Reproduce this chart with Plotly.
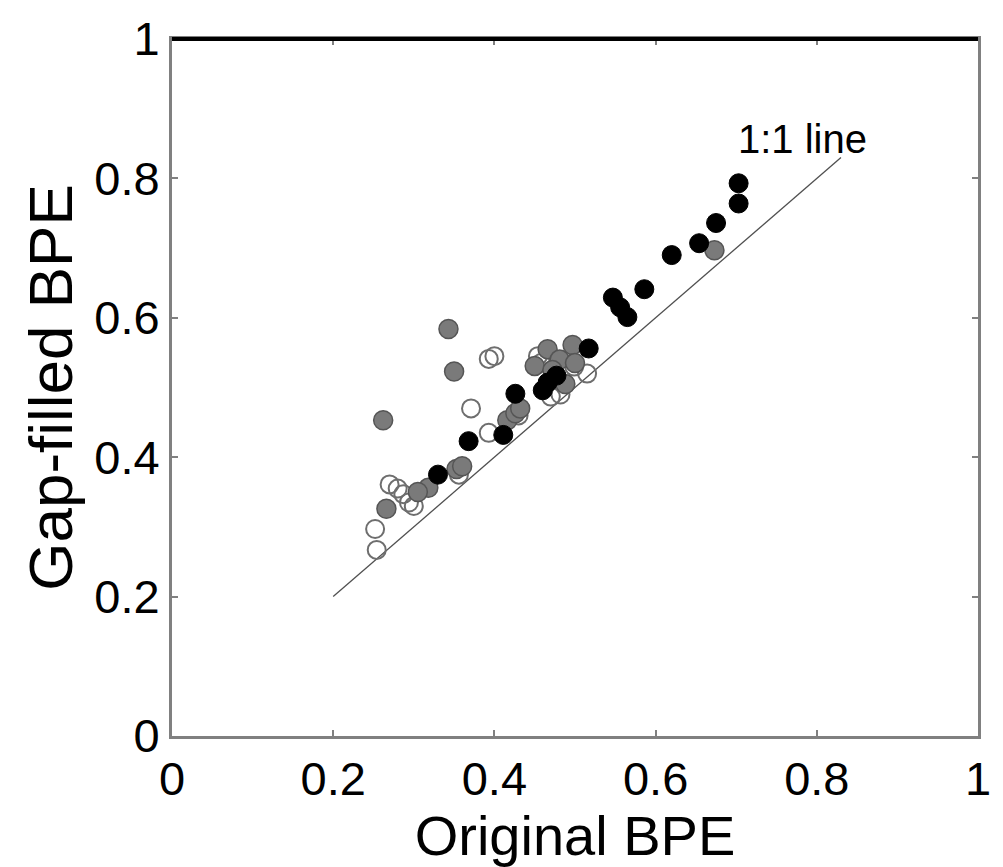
import plotly.graph_objects as go

# Original vs gap-filled BPE, three groups of sites
black_x = [0.703, 0.703, 0.675, 0.654, 0.620, 0.586, 0.547, 0.556, 0.565, 0.517,
           0.477, 0.466, 0.460, 0.426, 0.411, 0.368, 0.330]
black_y = [0.793, 0.764, 0.736, 0.707, 0.690, 0.641, 0.629, 0.615, 0.601, 0.556,
           0.517, 0.507, 0.496, 0.491, 0.432, 0.423, 0.375]

gray_x = [0.343, 0.350, 0.262, 0.266, 0.318, 0.305, 0.353, 0.360, 0.416, 0.426,
          0.432, 0.466, 0.497, 0.481, 0.450, 0.472, 0.488, 0.500, 0.673]
gray_y = [0.584, 0.523, 0.453, 0.326, 0.356, 0.350, 0.383, 0.387, 0.453, 0.463,
          0.470, 0.555, 0.561, 0.540, 0.531, 0.525, 0.505, 0.535, 0.697]

open_x = [0.270, 0.252, 0.254, 0.294, 0.287, 0.280, 0.300, 0.393, 0.400, 0.371,
          0.393, 0.454, 0.458, 0.515, 0.499, 0.482, 0.470, 0.430, 0.356]
open_y = [0.361, 0.297, 0.267, 0.335, 0.347, 0.355, 0.330, 0.541, 0.545, 0.470,
          0.435, 0.545, 0.535, 0.520, 0.530, 0.490, 0.487, 0.460, 0.375]

one_to_one = [0.2, 0.83]
tick_vals = [0, 0.2, 0.4, 0.6, 0.8, 1]
tick_text = ["0", "0.2", "0.4", "0.6", "0.8", "1"]

FONT = "Liberation Sans, Arial, sans-serif"
GRAY = "#808080"

fig = go.Figure()

fig.add_trace(go.Scatter(
    x=one_to_one, y=one_to_one, mode="lines",
    line=dict(color="#505050", width=1.3), showlegend=False))

fig.add_trace(go.Scatter(
    x=open_x, y=open_y, mode="markers",
    marker=dict(size=18, color="rgba(255,255,255,0)",
                line=dict(color="#6e6e6e", width=2)),
    showlegend=False))

fig.add_trace(go.Scatter(
    x=gray_x, y=gray_y, mode="markers",
    marker=dict(size=19, color="#7a7a7a", line=dict(color="#555555", width=1.5)),
    showlegend=False))

fig.add_trace(go.Scatter(
    x=black_x, y=black_y, mode="markers",
    marker=dict(size=19, color="#000000", line=dict(color="#000000", width=1)),
    showlegend=False))

fig.add_annotation(x=0.70, y=0.822, text="1:1 line", showarrow=False,
                   xanchor="left", yanchor="bottom",
                   font=dict(family=FONT, size=40, color="#000000"))

# heavier black edge along the top of the frame
fig.add_shape(type="line", xref="paper", yref="paper", x0=0, x1=1, y0=1, y1=1,
              line=dict(color="#000000", width=4))

axis_common = dict(
    range=[0, 1], tickvals=tick_vals, ticktext=tick_text,
    ticks="inside", ticklen=6, tickwidth=2, tickcolor=GRAY,
    showline=True, linecolor=GRAY, linewidth=3, mirror="ticks",
    showgrid=False, zeroline=False,
    tickfont=dict(family=FONT, size=47, color="#000000"),
)

fig.update_xaxes(**axis_common,
                 title=dict(text="Original BPE", standoff=4,
                            font=dict(family=FONT, size=56, color="#000000")))
fig.update_yaxes(**axis_common,
                 title=dict(text="Gap-filled BPE", standoff=2,
                            font=dict(family=FONT, size=62, color="#000000")))

fig.update_layout(
    width=1003, height=867,
    margin=dict(l=172, r=12, t=32, b=131),
    paper_bgcolor="#ffffff", plot_bgcolor="#ffffff",
)

fig.write_html("out.html")
